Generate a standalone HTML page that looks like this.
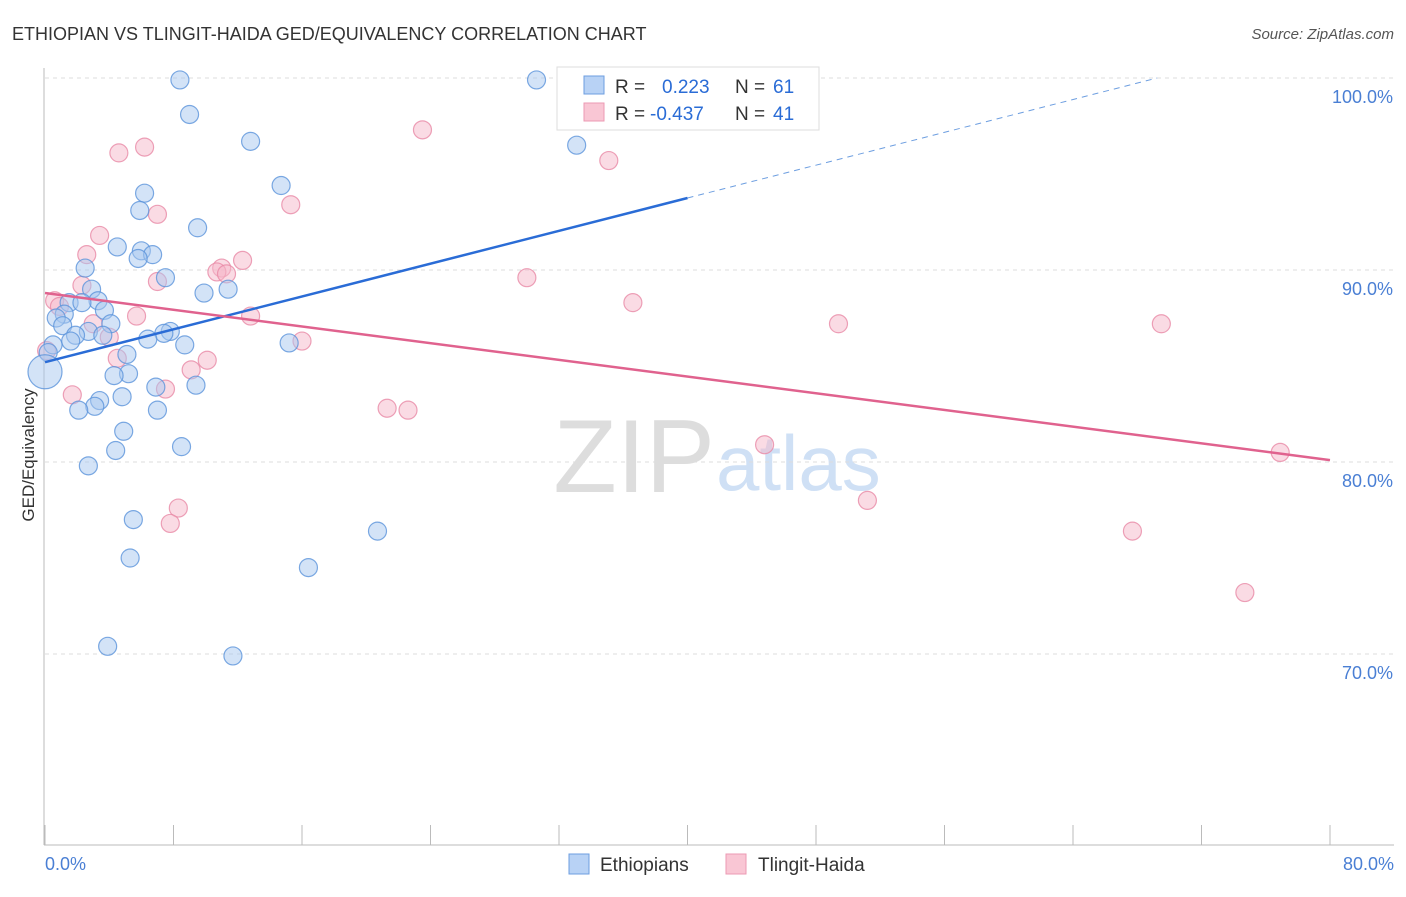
<!DOCTYPE html>
<html><head><meta charset="utf-8"><style>
body{margin:0;background:#fff;font-family:"Liberation Sans",sans-serif}
svg text{font-family:"Liberation Sans",sans-serif}
</style></head><body>
<svg id="chart" width="1406" height="892">
<text x="12" y="40" font-size="18" fill="#333">ETHIOPIAN VS TLINGIT-HAIDA GED/EQUIVALENCY CORRELATION CHART</text>
<text x="1394" y="39" font-size="15" fill="#555" font-style="italic" text-anchor="end">Source: ZipAtlas.com</text>
<text x="715" y="492" font-size="104" fill="#ddd" font-family="Liberation Serif" text-anchor="end">ZIP</text>
<text x="716" y="490" font-size="78" fill="#cfe0f5">atlas</text>
<g id="grid"></g><g id="marks"></g>
<text transform="translate(34,455) rotate(-90)" font-size="17" fill="#333" text-anchor="middle">GED/Equivalency</text>
<text x="45" y="870" font-size="18" fill="#4a7fd4">0.0%</text>
<text x="1394" y="870" font-size="18" fill="#4a7fd4" text-anchor="end">80.0%</text>
<g>
<rect x="557" y="67" width="262" height="63" fill="#fff" stroke="#ddd"/>
<rect x="584" y="76" width="20" height="18" fill="#b8d2f5" stroke="#6d9ee0"/>
<rect x="584" y="103" width="20" height="18" fill="#f9c6d4" stroke="#ec9ab3"/>
<text x="615" y="93" font-size="19" fill="#333">R =  <tspan fill="#2a6cd6" x="662">0.223</tspan><tspan fill="#333" x="735">N =</tspan><tspan fill="#2a6cd6" x="773">61</tspan></text>
<text x="615" y="120" font-size="19" fill="#333">R = <tspan fill="#2a6cd6" x="650">-0.437</tspan><tspan fill="#333" x="735">N =</tspan><tspan fill="#2a6cd6" x="773">41</tspan></text>
</g>
<g>
<rect x="569" y="854" width="20" height="20" fill="#b8d2f5" stroke="#6d9ee0"/>
<text x="600" y="871" font-size="19" fill="#333">Ethiopians</text>
<rect x="726" y="854" width="20" height="20" fill="#f9c6d4" stroke="#ec9ab3"/>
<text x="758" y="871" font-size="19" fill="#333">Tlingit-Haida</text>
</g>
</svg>
<script>
const yTicks=[100,90,80,70];
const blueX=[8.4,30.6,9.0,12.8,33.1,14.7,6.2,5.9,9.5,4.5,6.0,6.7,5.8,2.5,7.5,2.9,11.4,9.9,3.3,1.5,2.3,3.7,1.2,0.7,4.1,1.1,2.7,7.8,7.4,1.9,3.6,6.4,1.6,8.7,15.2,0.5,0.2,5.1,0,5.2,4.3,6.9,9.4,4.8,3.4,3.1,7.0,2.1,4.9,8.5,4.4,2.7,20.7,5.5,5.3,16.4,3.9,11.7];
const blueY=[99.9,99.9,98.1,96.7,96.5,94.4,94.0,93.1,92.2,91.2,91.0,90.8,90.6,90.1,89.6,89.0,89.0,88.8,88.4,88.3,88.3,87.9,87.7,87.5,87.2,87.1,86.8,86.8,86.7,86.6,86.6,86.4,86.3,86.1,86.2,86.1,85.7,85.6,84.7,84.6,84.5,83.9,84.0,83.4,83.2,82.9,82.7,82.7,81.6,80.8,80.6,79.8,76.4,77.0,75.0,74.5,70.4,69.9];
const pinkX=[23.5,4.6,6.2,35.1,15.3,7.0,3.4,2.6,12.3,11.0,10.7,11.3,30.0,7.0,2.3,0.6,36.6,0.9,12.8,5.7,49.4,69.5,3.0,4.0,16.0,0.1,4.5,10.1,9.1,7.5,1.7,21.3,22.6,44.8,76.9,51.2,8.3,7.8,67.7,74.7];
const pinkY=[97.3,96.1,96.4,95.7,93.4,92.9,91.8,90.8,90.5,90.1,89.9,89.8,89.6,89.4,89.2,88.4,88.3,88.1,87.6,87.6,87.2,87.2,87.2,86.5,86.3,85.8,85.4,85.3,84.8,83.8,83.5,82.8,82.7,80.9,80.5,78.0,77.6,76.8,76.4,73.2];
const blueTrend=[85.2,93.75];   // at x=0 and x=40
const pinkTrend=[88.8,80.1];    // at x=0 and x=80
const NS="http://www.w3.org/2000/svg";
const xs=v=>45+v*1285/80, ys=v=>78+(100-v)*19.2;
function mk(t,a,p){const e=document.createElementNS(NS,t);for(const k in a)e.setAttribute(k,a[k]);p.appendChild(e);return e;}
const g=document.getElementById('grid'),m=document.getElementById('marks');
yTicks.forEach(t=>{
 const l=mk('line',{x1:45,x2:1394,y1:ys(t),y2:ys(t),stroke:'#ddd','stroke-dasharray':'4,4'},g);
 
 
 const tx=mk('text',{x:1393,y:ys(t)+25,'font-size':18,fill:'#4a7fd4','text-anchor':'end'},g);tx.textContent=t.toFixed(1)+'%';
 
 
});
mk('line',{x1:44,x2:44,y1:68,y2:845,stroke:'#bbb'},g);
mk('line',{x1:44,x2:1394,y1:845,y2:845,stroke:'#bbb'},g);
for(let i=0;i<=10;i++){const l=mk('line',{x1:xs(i*8),x2:xs(i*8),y1:825,y2:845,stroke:'#bbb'},g);
 
 }
function pts(X,Y,fill,stroke,name){X.forEach((x,i)=>{const r=(x===0)?17:9;
 const c=mk('circle',{cx:xs(x),cy:ys(Y[i]),r:r,fill:fill,'fill-opacity':0.5,stroke:stroke,'stroke-opacity':0.8,'stroke-width':1.2},m);
 
 });}
pts(pinkX,pinkY,'#f6b8ca','#e88aa6','tlingit-point');
pts(blueX,blueY,'#a8c8f0','#5b93db','ethiopian-point');
const bs=(blueTrend[1]-blueTrend[0])/40;
const b1=mk('line',{x1:xs(0),y1:ys(blueTrend[0]),x2:xs(40),y2:ys(blueTrend[1]),stroke:'#2a6cd6','stroke-width':2.5},m);


const xe=40+(100-blueTrend[1])/bs;
const b2=mk('line',{x1:xs(40),y1:ys(blueTrend[1]),x2:xs(xe),y2:ys(100),stroke:'#6d9ee0','stroke-width':1,'stroke-dasharray':'6,5'},m);


const p1=mk('line',{x1:xs(0),y1:ys(pinkTrend[0]),x2:xs(80),y2:ys(pinkTrend[1]),stroke:'#e0628e','stroke-width':2.5},m);


</script>
</body></html>
